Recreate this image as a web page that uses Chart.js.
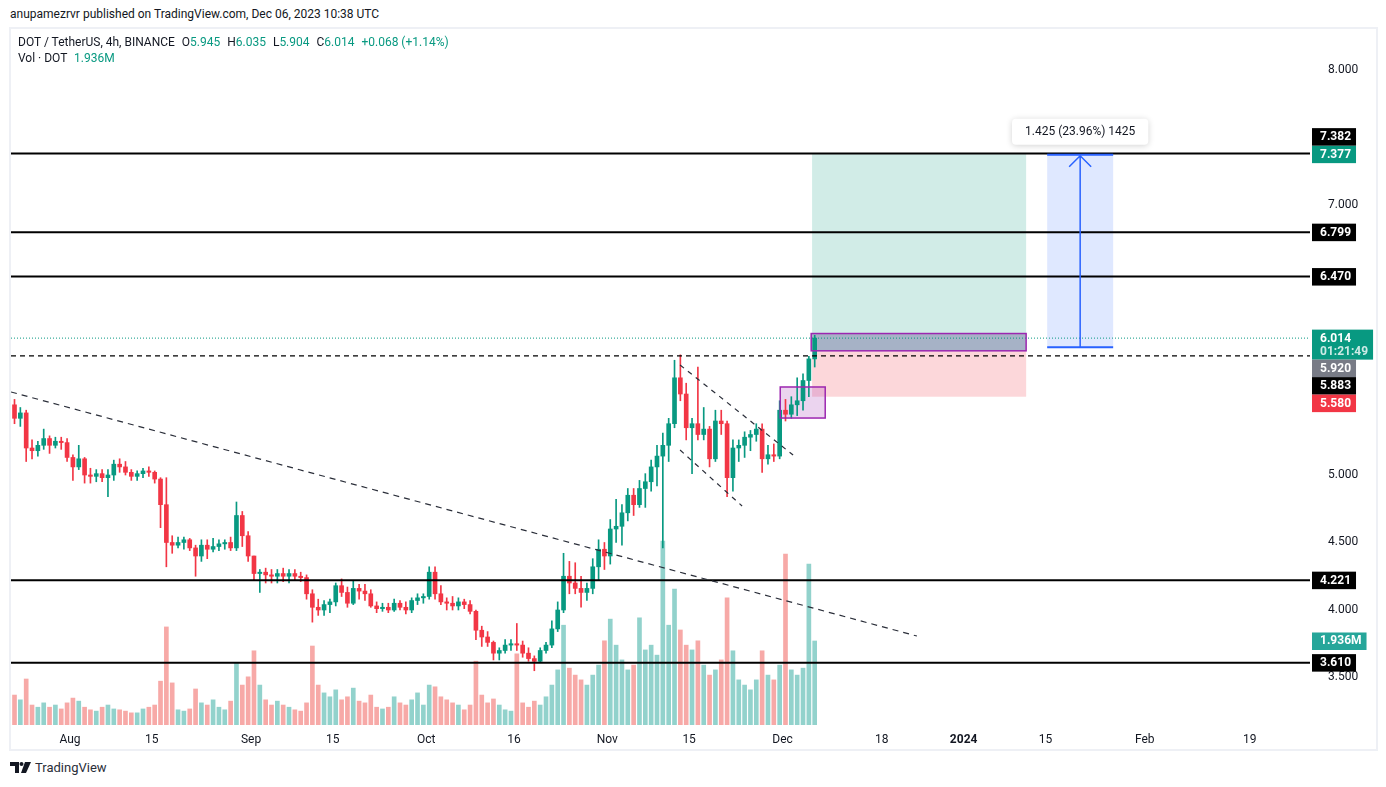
<!DOCTYPE html>
<html>
<head>
<meta charset="utf-8">
<script src="https://cdn.jsdelivr.net/npm/chart.js@4.4.0/dist/chart.umd.min.js"></script>
<style>
  html, body { margin: 0; padding: 0; background: #fff; width: 1386px; height: 787px; overflow: hidden;
    font-family: Roboto, "Noto Sans", sans-serif; color: #131722; }
  #pub { position: absolute; left: 10px; top: 7px; font-size: 12px; white-space: nowrap; }
  #frame { position: absolute; left: 9px; top: 27px; width: 1369px; height: 724px;
    border: 2px solid #eef0f5; box-sizing: border-box; }
  #chartBox { position: absolute; left: 0; top: 0; width: 1365px; height: 720px; }
  .legend { position: absolute; left: 18px; font-size: 12px; white-space: nowrap; }
  .legend .v { color: #089981; }
  .legend .k { margin-left: 4px; }
  #brand { position: absolute; left: 10px; top: 760px; font-size: 13px; display: flex; align-items: center; gap: 4px; color: #2a2e39; }
</style>
</head>
<body>
<div id="pub">anupamezrvr published on TradingView.com, Dec 06, 2023 10:38 UTC</div>
<div id="frame"><div id="chartBox"><canvas id="dotChart"></canvas></div></div>
<div class="legend" style="top:35px">DOT / TetherUS, 4h, BINANCE <span class="k">O</span><span class="v">5.945</span> <span class="k">H</span><span class="v">6.035</span> <span class="k">L</span><span class="v">5.904</span> <span class="k">C</span><span class="v">6.014</span> <span class="v k">+0.068 (+1.14%)</span></div>
<div class="legend" style="top:51px">Vol · DOT <span class="v k">1.936M</span></div>
<div id="brand">
  <svg width="21" height="11" viewBox="0 0 21 11"><path d="M0 0h9v11H5V4H0z" fill="#131722"/><circle cx="11.5" cy="2" r="2" fill="#131722"/><path d="M15 0h6l-5 11h-5z" fill="#131722"/></svg>
  <span>TradingView</span>
</div>
<script>
'use strict';

// ******** data (days counted from Aug 1 2023, one candle per day) ********
const firstDay = -10; // Jul 22

const opens = [5.52,5.42,5.46,5.20,5.18,5.22,5.27,5.22,5.25,5.24,
  5.13,5.06,5.12,5.00,4.99,5.01,4.98,5.00,5.08,5.06,5.02,4.99,5.01,5.03,5.02,
  4.97,4.78,4.50,4.48,4.50,4.52,4.46,4.40,4.48,4.45,4.47,4.49,4.50,
  4.46,4.70,4.55,4.40,4.27,4.28,4.26,4.25,4.27,4.25,4.27,4.25,4.24,
  4.12,4.02,4.00,4.04,4.06,4.18,4.13,4.05,4.16,4.14,4.12,4.03,4.01,4.02,4.00,4.05,4.02,4.00,4.07,4.09,
  4.10,4.28,4.12,4.06,4.05,4.03,4.06,4.04,3.99,3.85,3.80,3.76,3.68,3.70,3.74,3.75,3.74,3.68,3.64,3.62,3.70,
  3.74,3.86,4.00,4.25,4.20,4.16,4.13,4.16,4.32,4.45,4.40,4.60,4.62,4.72,4.85,4.78,4.90,4.95,5.06,
  5.14,5.22,5.38,5.72,5.60,5.35,5.38,5.30,5.34,5.12,5.40,5.38,4.98,5.20,5.22,5.28,5.30,5.34,5.12,5.15,5.14,5.48,5.45,5.52,5.55,5.70,5.86];

const highs = [5.56,5.50,5.48,5.26,5.25,5.34,5.29,5.28,5.28,5.27,
  5.15,5.22,5.13,5.05,5.04,5.04,5.04,5.11,5.12,5.10,5.04,5.03,5.05,5.06,5.03,
  4.98,4.98,4.55,4.54,4.54,4.53,4.48,4.52,4.52,4.53,4.52,4.52,4.54,
  4.80,4.73,4.58,4.40,4.30,4.31,4.30,4.30,4.31,4.30,4.30,4.28,4.26,
  4.15,4.08,4.07,4.08,4.20,4.23,4.17,4.22,4.19,4.19,4.15,4.06,4.05,4.05,4.08,4.07,4.06,4.09,4.12,4.12,
  4.32,4.32,4.18,4.09,4.10,4.09,4.08,4.07,4.00,3.88,3.84,3.77,3.72,3.78,3.78,3.90,3.77,3.72,3.66,3.72,3.76,
  3.92,4.06,4.42,4.36,4.35,4.25,4.20,4.38,4.52,4.50,4.67,4.82,4.78,4.90,4.90,4.96,5.01,5.11,5.22,
  5.31,5.42,5.85,5.89,5.68,5.42,5.80,5.50,5.36,5.48,5.48,5.40,5.26,5.26,5.32,5.33,5.38,5.38,5.22,5.23,5.55,5.56,5.58,5.72,5.75,5.88,6.035];

const lows = [5.38,5.36,5.10,5.12,5.14,5.19,5.16,5.20,5.19,5.10,
  4.96,5.04,4.94,4.94,4.95,4.95,4.84,4.96,5.02,5.00,4.96,4.96,4.98,4.99,4.94,
  4.61,4.32,4.42,4.46,4.45,4.44,4.25,4.36,4.38,4.43,4.44,4.45,4.44,
  4.44,4.47,4.36,4.22,4.13,4.20,4.20,4.20,4.21,4.20,4.22,4.21,4.08,
  3.91,3.96,3.96,3.98,4.03,4.10,4.02,4.04,4.08,4.07,4.02,3.98,3.99,3.98,3.99,4.00,3.97,3.98,4.04,4.05,
  4.08,4.08,4.04,4.00,4.00,4.00,4.01,3.97,3.78,3.73,3.73,3.63,3.63,3.68,3.70,3.70,3.65,3.62,3.55,3.61,3.68,
  3.72,3.84,3.98,4.12,4.12,4.02,4.07,4.12,4.22,4.30,4.34,4.50,4.48,4.66,4.70,4.76,4.76,4.88,4.92,
  4.46,5.10,5.35,5.55,5.26,5.01,5.26,5.26,5.06,5.10,5.30,4.84,4.88,5.10,5.13,5.18,5.25,5.02,5.08,5.10,5.12,5.40,5.42,5.44,5.48,5.58,5.80];

const closes = [5.42,5.46,5.20,5.18,5.22,5.27,5.22,5.25,5.24,5.13,
  5.06,5.12,5.00,4.99,5.01,4.98,5.00,5.08,5.06,5.02,4.99,5.01,5.03,5.02,4.97,
  4.78,4.50,4.48,4.50,4.52,4.46,4.40,4.48,4.45,4.47,4.49,4.50,4.46,
  4.70,4.55,4.40,4.27,4.28,4.26,4.25,4.27,4.25,4.27,4.25,4.24,4.12,
  4.02,4.00,4.04,4.06,4.18,4.13,4.05,4.16,4.14,4.12,4.03,4.01,4.02,4.00,4.05,4.02,4.00,4.07,4.09,4.10,
  4.28,4.12,4.06,4.05,4.03,4.06,4.04,3.99,3.85,3.80,3.76,3.68,3.70,3.74,3.75,3.74,3.68,3.64,3.62,3.70,3.74,
  3.86,4.00,4.25,4.20,4.16,4.13,4.16,4.32,4.45,4.40,4.60,4.62,4.72,4.85,4.78,4.90,4.95,5.06,5.14,
  5.22,5.38,5.72,5.60,5.35,5.38,5.30,5.34,5.12,5.40,5.38,4.98,5.20,5.22,5.28,5.30,5.34,5.12,5.15,5.14,5.48,5.45,5.52,5.55,5.70,5.86,6.014];

// volume in millions DOT
const volumes = [0.69,0.58,1.06,0.46,0.41,0.51,0.41,0.46,0.37,0.51,
  0.62,0.55,0.41,0.35,0.32,0.41,0.46,0.37,0.35,0.32,0.28,0.28,0.37,0.41,0.46,
  1.01,2.26,0.97,0.35,0.32,0.37,0.83,0.51,0.46,0.58,0.41,0.35,0.55,
  1.43,0.92,1.11,1.71,0.92,0.58,0.46,0.55,0.46,0.41,0.35,0.32,0.51,
  1.82,0.92,0.74,0.65,0.81,0.58,0.65,0.85,0.55,0.51,0.69,0.41,0.37,0.41,0.65,0.51,0.46,0.58,0.74,0.46,
  0.92,0.88,0.65,0.58,0.51,0.46,0.35,0.46,1.47,0.69,0.51,0.60,0.46,0.35,0.32,1.64,0.51,0.41,0.55,0.46,0.65,
  0.92,1.27,2.30,1.31,1.15,1.04,0.92,1.15,1.38,1.94,2.44,1.84,1.50,1.27,1.38,2.47,1.73,1.84,1.61,
  4.24,2.30,3.13,2.19,1.84,1.73,1.94,1.38,1.15,1.27,1.50,2.93,1.71,1.04,0.92,0.81,1.04,1.71,1.15,1.04,1.38,3.94,1.27,1.15,1.31,3.71,1.936];

// axis ticks
const timeTickDays = [0, 14, 31, 45, 61, 76, 92, 106, 122, 139, 153, 167, 184, 202];
const timeTickLabels = ['Aug', '15', 'Sep', '15', 'Oct', '16', 'Nov', '15', 'Dec', '18', '2024', '15', 'Feb', '19'];
const priceTicks = [3.5, 4.0, 4.5, 5.0, 7.0, 8.0];

// drawings
const levelPrices = [7.382, 6.799, 6.470, 4.221, 3.610];
const prevHigh = 5.883;
const lastPrice = 6.014;
const lastVolume = 1.936;
const longTrade = { from: 127.05, to: 163.7, entry: 5.920, target: 7.377, stop: 5.580 };
const entryZone = [126.9, 163.7, 6.048, 5.920];
const breakoutZone = [121.6, 129.3, 5.652, 5.422];
const measure = { from: 167.3, to: 178.6, base: 5.947, top: 7.372 };
const trendLine = [[-10.1, 5.615], [145.0, 3.807]];
const channelTop = [[104.45, 5.815], [123.8, 5.148]];
const channelBottom = [[104.45, 5.185], [115.07, 4.770]];

const axisLabels = [
  { p: lastPrice, t: '6.014', t2: '01:21:49', bg: '#089981' },
  { p: 7.377, t: '7.377', bg: '#089981' },
  { p: 6.799, t: '6.799', bg: '#000000' },
  { p: 6.470, t: '6.470', bg: '#000000' },
  { p: 4.221, t: '4.221', bg: '#000000' },
  { p: 3.610, t: '3.610', bg: '#000000' },
  { p: lastVolume, t: '1.936M', bg: '#26a69a', vol: true },
  { p: 7.382, t: '7.382', bg: '#000000' },
  { p: 5.920, t: '5.920', bg: '#787b86' },
  { p: 5.883, t: '5.883', bg: '#000000' },
  { p: 5.580, t: '5.580', bg: '#f23645' }
];

// ******** chart ********
const UP = '#089981', DOWN = '#f23645';
const days = opens.map((_, i) => firstDay + i + 0.5);
const isUp = opens.map((o, i) => closes[i] >= o);

function placeLabels(items) {
  const placed = [];
  items.forEach(it => {
    const above = 8.5, below = it.h - 8.5;
    const free = c => placed.every(b => c + below <= b.top + 0.01 || c - above >= b.bottom - 0.01);
    let cands = [it.c];
    placed.forEach(b => { cands.push(b.bottom + above); cands.push(b.top - below); });
    cands = cands.filter(free).sort((a, b) => Math.abs(a - it.c) - Math.abs(b - it.c));
    it.y = cands.length ? cands[0] : it.c;
    placed.push({ top: it.y - above, bottom: it.y + below });
  });
  return items;
}

function noPadding(s) {
  s.paddingTop = 0; s.paddingBottom = 0; s.paddingLeft = 0; s.paddingRight = 0;
}

const drawings = {
  id: 'drawings',
  beforeDatasetsDraw(chart) {
    const { ctx, chartArea: a, scales: { x, y } } = chart;
    ctx.save();
    ctx.beginPath();
    ctx.rect(a.left, a.top, a.right - a.left, a.bottom - a.top);
    ctx.clip();

    // long position
    const x0 = x.getPixelForValue(longTrade.from), x1 = x.getPixelForValue(longTrade.to);
    const ye = y.getPixelForValue(longTrade.entry);
    const yt = y.getPixelForValue(longTrade.target);
    const ys = y.getPixelForValue(longTrade.stop);
    ctx.fillStyle = 'rgba(8,153,129,0.19)';
    ctx.fillRect(x0, yt, x1 - x0, ye - yt);
    ctx.fillStyle = 'rgba(242,54,69,0.2)';
    ctx.fillRect(x0, ye, x1 - x0, ys - ye);

    // boxes
    const zone = (z, fill) => {
      const l = x.getPixelForValue(z[0]), r = x.getPixelForValue(z[1]);
      const t = y.getPixelForValue(z[2]), b = y.getPixelForValue(z[3]);
      ctx.fillStyle = fill;
      ctx.fillRect(l, t, r - l, b - t);
    };
    zone(entryZone, 'rgba(112,108,158,0.45)');
    zone(breakoutZone, 'rgba(156,39,176,0.2)');

    // measure
    const mx0 = x.getPixelForValue(measure.from), mx1 = x.getPixelForValue(measure.to);
    const mb = y.getPixelForValue(measure.base), mt = y.getPixelForValue(measure.top);
    ctx.fillStyle = 'rgba(41,98,255,0.15)';
    ctx.fillRect(mx0, mt, mx1 - mx0, mb - mt);
    ctx.restore();
  },
  afterDatasetsDraw(chart) {
    const { ctx, chartArea: a, scales: { x, y } } = chart;
    ctx.save();
    ctx.beginPath();
    ctx.rect(a.left, a.top, a.right - a.left, a.bottom - a.top);
    ctx.clip();

    const line = (pts, color, width, dash) => {
      ctx.beginPath();
      ctx.setLineDash(dash || []);
      ctx.strokeStyle = color;
      ctx.lineWidth = width;
      ctx.moveTo(x.getPixelForValue(pts[0][0]), y.getPixelForValue(pts[0][1]));
      ctx.lineTo(x.getPixelForValue(pts[1][0]), y.getPixelForValue(pts[1][1]));
      ctx.stroke();
    };

    levelPrices.forEach(p => line([[x.min, p], [x.max, p]], '#000', 2));
    line([[x.min, prevHigh], [x.max, prevHigh]], '#000', 1.2, [5, 4]);
    line([[x.min, lastPrice], [x.max, lastPrice]], UP, 1, [1, 2]);
    line(trendLine, '#2a2e39', 1.2, [6, 5]);
    line(channelTop, '#2a2e39', 1.2, [5, 5]);
    line(channelBottom, '#2a2e39', 1.2, [5, 5]);

    // zone borders
    ctx.setLineDash([]);
    ctx.strokeStyle = '#9c27b0';
    ctx.lineWidth = 1.5;
    [entryZone, breakoutZone].forEach(z => {
      const l = x.getPixelForValue(z[0]), r = x.getPixelForValue(z[1]);
      const t = y.getPixelForValue(z[2]), b = y.getPixelForValue(z[3]);
      ctx.strokeRect(l, t, r - l, b - t);
    });

    // measure lines and arrow
    const mx0 = x.getPixelForValue(measure.from), mx1 = x.getPixelForValue(measure.to);
    const mb = y.getPixelForValue(measure.base), mt = y.getPixelForValue(measure.top);
    const mc = (mx0 + mx1) / 2;
    ctx.strokeStyle = '#2962ff';
    ctx.lineWidth = 2;
    ctx.beginPath();
    ctx.moveTo(mx0, mt); ctx.lineTo(mx1, mt);
    ctx.moveTo(mx0, mb); ctx.lineTo(mx1, mb);
    ctx.stroke();
    ctx.lineWidth = 1.5;
    ctx.beginPath();
    ctx.moveTo(mc, mb); ctx.lineTo(mc, mt + 1);
    ctx.moveTo(mc - 11, mt + 12); ctx.lineTo(mc, mt + 1); ctx.lineTo(mc + 11, mt + 12);
    ctx.stroke();
    ctx.restore();

    // measure label
    const diff = measure.top - measure.base;
    const txt = diff.toFixed(3) + ' (' + (diff / measure.base * 100).toFixed(2) + '%) ' + Math.round(diff * 1000);
    ctx.save();
    ctx.font = '12px Roboto';
    const w = ctx.measureText(txt).width + 26, h = 26;
    const bx = mc - w / 2, by = mt - 36;
    ctx.shadowColor = 'rgba(0,0,0,0.18)';
    ctx.shadowBlur = 6;
    ctx.shadowOffsetY = 1;
    ctx.fillStyle = '#fff';
    ctx.beginPath();
    ctx.roundRect(bx, by, w, h, 4);
    ctx.fill();
    ctx.shadowColor = 'transparent';
    ctx.fillStyle = '#131722';
    ctx.textAlign = 'center';
    ctx.textBaseline = 'middle';
    ctx.fillText(txt, mc, by + h / 2 + 0.5);
    ctx.restore();
  },
  afterDraw(chart) {
    const { ctx, chartArea: a, scales } = chart;
    ctx.save();
    ctx.font = 'bold 12px Roboto';
    const items = axisLabels.map(l => ({
      ...l,
      c: (l.vol ? scales.vol : scales.y).getPixelForValue(l.p),
      h: l.t2 ? 30 : 17.5
    }));
    placeLabels(items);
    items.forEach(it => {
      const tw = ctx.measureText(it.t2 || it.t).width;
      const left = a.right + 2;
      const top = it.y - 8.5;
      ctx.fillStyle = it.bg;
      ctx.fillRect(left, top, tw + 13, it.h);
      ctx.textBaseline = 'middle';
      ctx.textAlign = 'left';
      ctx.fillStyle = '#fff';
      ctx.fillText(it.t, left + 8, it.y + 0.5);
      if (it.t2) {
        ctx.fillStyle = 'rgba(255,255,255,0.8)';
        ctx.fillText(it.t2, left + 8, it.y + 14);
      }
    });
    ctx.restore();
  }
};

const context = document.getElementById('dotChart').getContext('2d');

new Chart(context, {
  type: 'bar',
  data: {
    datasets: [{
      // volume
      yAxisID: 'vol',
      data: days.map((d, i) => ({ x: d, y: volumes[i] })),
      backgroundColor: isUp.map(u => u ? 'rgba(38,166,154,0.5)' : 'rgba(239,83,80,0.5)'),
      barThickness: 4,
      grouped: false,
      order: 3
    }, {
      // wicks
      yAxisID: 'y',
      data: days.map((d, i) => ({ x: d, y: [lows[i], highs[i]] })),
      backgroundColor: isUp.map(u => u ? UP : DOWN),
      barThickness: 1,
      grouped: false,
      order: 2
    }, {
      // bodies
      yAxisID: 'y',
      data: days.map((d, i) => ({ x: d, y: [opens[i], closes[i]] })),
      backgroundColor: isUp.map(u => u ? UP : DOWN),
      barThickness: 4,
      minBarLength: 1,
      grouped: false,
      order: 1
    }]
  },
  options: {
    responsive: true,
    maintainAspectRatio: false,
    animation: false,
    layout: { padding: 0 },
    plugins: { legend: { display: false }, tooltip: { enabled: false } },
    scales: {
      x: {
        type: 'linear',
        min: -10.1,
        max: 212.3,
        offset: false,
        grid: { display: false },
        border: { display: false },
        afterBuildTicks: s => { s.ticks = timeTickDays.map(v => ({ value: v })); },
        afterFit: s => { s.height = 24; noPadding(s); },
        ticks: {
          autoSkip: false,
          maxRotation: 0,
          padding: 0,
          color: '#131722',
          font: c => ({ family: 'Roboto', size: 12, weight: timeTickLabels[c.index] === '2024' ? 'bold' : 'normal' }),
          callback: v => timeTickLabels[timeTickDays.indexOf(v)]
        }
      },
      y: {
        position: 'right',
        min: 3.148,
        max: 8.304,
        grid: { display: false },
        border: { display: false },
        afterBuildTicks: s => { s.ticks = priceTicks.map(v => ({ value: v })); },
        afterFit: s => { s.width = 66; noPadding(s); },
        ticks: {
          padding: 10,
          color: '#131722',
          font: { family: 'Roboto', size: 12 },
          callback: v => v.toFixed(3)
        }
      },
      vol: {
        display: false,
        min: 0,
        max: 16.04
      }
    }
  },
  plugins: [drawings]
});
</script>
</body>
</html>
